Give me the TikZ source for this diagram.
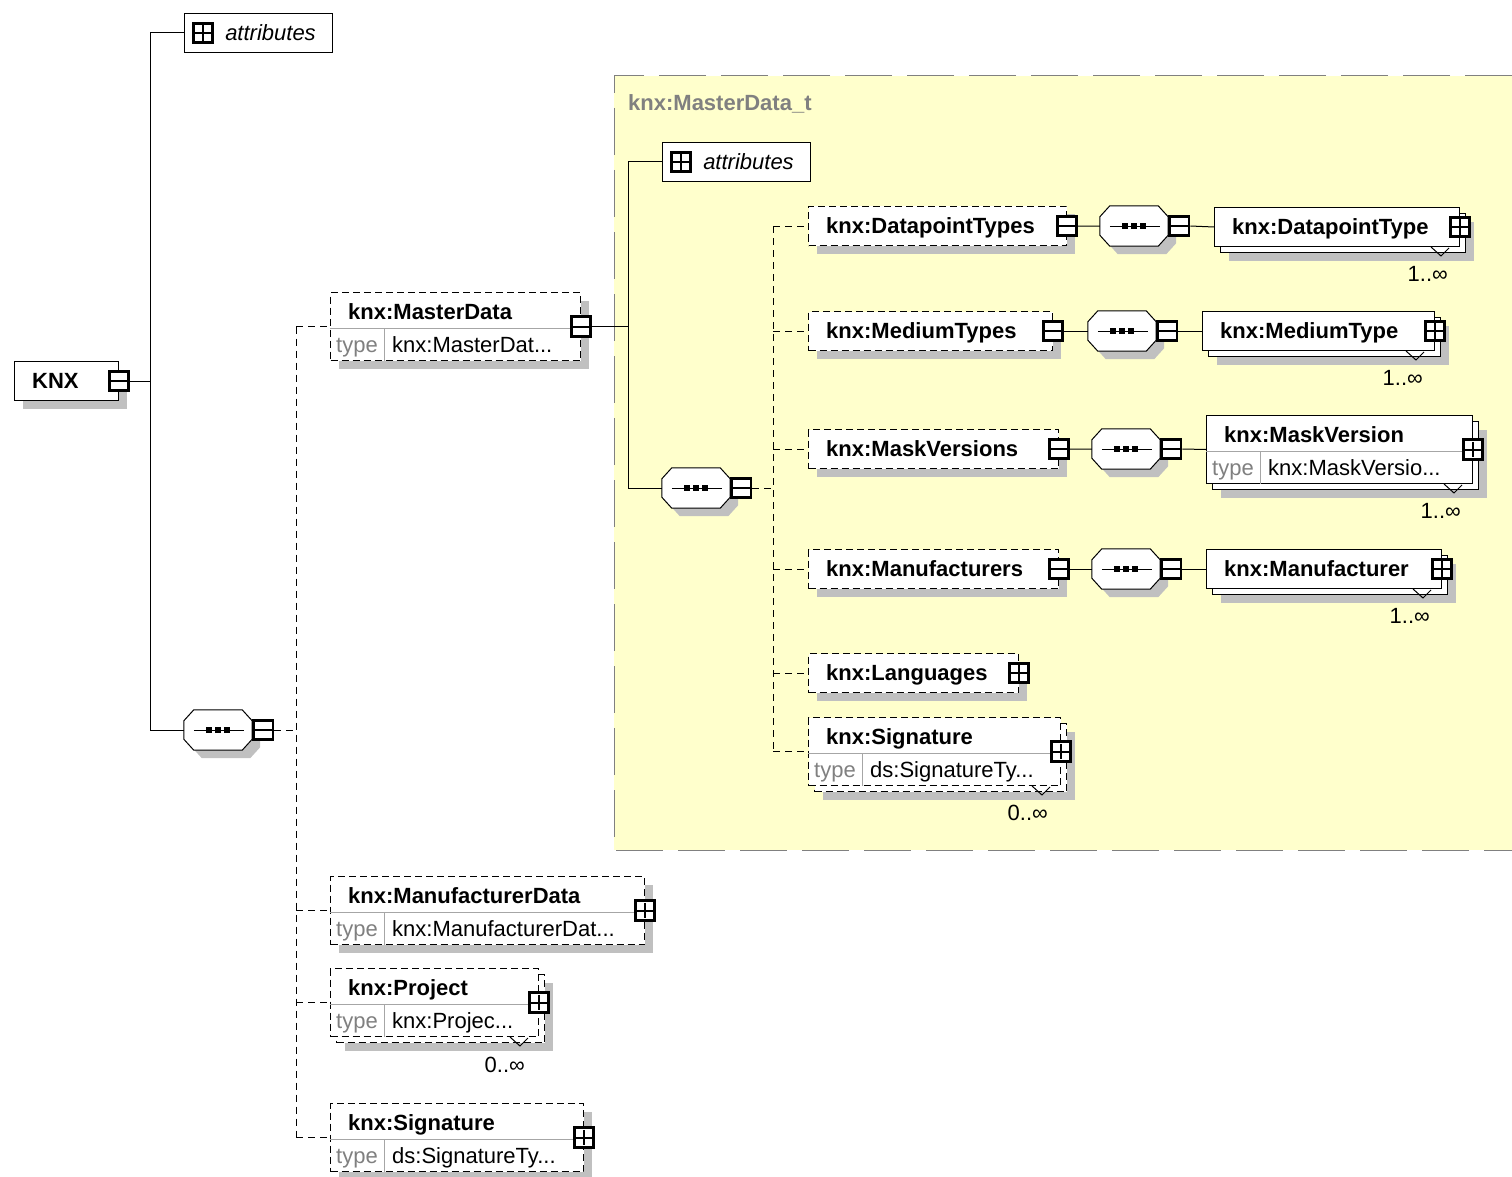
\documentclass[tikz,border=0pt]{standalone}
\usepackage{fontspec}
\setmainfont{Liberation Sans}
\usetikzlibrary{shadows}

\definecolor{cmplx}{RGB}{255,255,204}
\definecolor{shd}{RGB}{192,192,192}
\definecolor{lbl}{RGB}{128,128,128}

\tikzset{
  box/.style={draw, fill=white, line width=1pt, anchor=north west, minimum height=39, inner sep=0},
  opt/.style={dash pattern=on 7pt off 4pt},
  sh/.style={drop shadow={shadow xshift=8pt, shadow yshift=-8pt, fill=shd, draw=none, opacity=1}},
  multi/.style={drop shadow={shadow xshift=14pt, shadow yshift=-14pt, fill=shd, draw=none, opacity=1},
    copy shadow={shadow xshift=6pt, shadow yshift=-6pt, draw=black, fill=white}},
  txt/.style={anchor=west, inner sep=0, text height=15, text depth=0},
  ttl/.style={txt, font=\bfseries},
  typ/.style={txt, text=lbl},
  occ/.style={txt, anchor=east},
  sep/.style={draw=black!35, line width=1pt},
  attr/.style={box, minimum width=148, text height=15, text depth=0, font=\itshape},
  btn/.style={draw, fill=white, line width=2.6pt, minimum size=19.5, inner sep=0},
  minus/.style={btn, path picture={\draw[black, line width=2pt] ([xshift=1pt]path picture bounding box.west) -- ([xshift=-1pt]path picture bounding box.east);}},
  plus/.style={btn, path picture={\draw[black, line width=2pt] ([xshift=2pt]path picture bounding box.west) -- ([xshift=-2pt]path picture bounding box.east)
      ([yshift=-2pt]path picture bounding box.north) -- ([yshift=2pt]path picture bounding box.south);}},
  seq/.style={minimum width=68, minimum height=40, inner sep=0},
  wire/.style={line width=1pt},
  link/.style={line width=1pt, dash pattern=on 7pt off 5pt},
}

% sequence compositor: name, position
\newcommand{\seqbox}[2]{%
  \node[seq] (#1) at (#2) {};
  \fill[shd, transform canvas={shift={(8pt,-8pt)}}]
    ([xshift=10pt]#1.north west) -- ([xshift=-10pt]#1.north east) -- ([yshift=-11pt]#1.north east)
    -- ([yshift=11pt]#1.south east) -- ([xshift=-10pt]#1.south east) -- ([xshift=10pt]#1.south west)
    -- ([yshift=11pt]#1.south west) -- ([yshift=-11pt]#1.north west) -- cycle;
  \filldraw[wire, fill=white]
    ([xshift=10pt]#1.north west) -- ([xshift=-10pt]#1.north east) -- ([yshift=-11pt]#1.north east)
    -- ([yshift=11pt]#1.south east) -- ([xshift=-10pt]#1.south east) -- ([xshift=10pt]#1.south west)
    -- ([yshift=11pt]#1.south west) -- ([yshift=-11pt]#1.north west) -- cycle;
  \draw[wire] ([xshift=10pt]#1.west) -- ([xshift=-8pt]#1.east);
  \foreach \d in {-9,0,9}
    \fill[black] ([shift={(\d-3,-3)}]#1.center) rectangle ++(6,6);
}

\begin{document}
\fontsize{22}{26}\selectfont
\begin{tikzpicture}[x=1pt, y=-1pt]
\useasboundingbox (0,0) rectangle (1512,1177);

% complex type area
\fill[cmplx] (614,76) rectangle (1512,850);
\draw[lbl, line width=1pt, dash pattern=on 47pt off 15pt] (1512,76) -- (614,76) -- (614,850) -- (1512,850);
\node[ttl, text=lbl] (mdt) at (628,103) {knx:MasterData\_t};

% root
\node[box, sh, minimum width=104] (knx) at (14,361) {};
\node[ttl] (knxT) at ([xshift=18pt]knx.west) {KNX};
\node[minus] (knxB) at (knx.east) {};
\coordinate (j1) at (150,0 |- knx.east);

\node[attr] (attr1) at (184,13) {\hspace*{24pt}attributes};
\node[plus] (attr1I) at ([xshift=19pt]attr1.west) {};

\seqbox{seq1}{218,730}
\node[minus, anchor=west] (seq1B) at (seq1.east) {};
\coordinate (j2) at (296,0 |- seq1.east);

% knx:MasterData
\node[box, opt, sh, minimum width=250, minimum height=68] (md) at (330,292) {};
\node[ttl] (mdT) at ([shift={(18,20)}]md.north west) {knx:MasterData};
\draw[sep] ([shift={(0,36)}]md.north west) -- ([shift={(0,36)}]md.north east)
  ([shift={(54,36)}]md.north west) -- ([shift={(54,0)}]md.south west);
\node[typ] (mdK) at ([shift={(6,53)}]md.north west) {type};
\node[txt] (mdV) at ([shift={(62,53)}]md.north west) {knx:MasterDat...};
\node[minus] (mdB) at (md.east) {};
\coordinate (j3) at (628,0 |- md.east);

% knx:ManufacturerData
\node[box, opt, sh, minimum width=314, minimum height=68] (mfd) at (330,876) {};
\node[ttl] (mfdT) at ([shift={(18,20)}]mfd.north west) {knx:ManufacturerData};
\draw[sep] ([shift={(0,36)}]mfd.north west) -- ([shift={(0,36)}]mfd.north east)
  ([shift={(54,36)}]mfd.north west) -- ([shift={(54,0)}]mfd.south west);
\node[typ] (mfdK) at ([shift={(6,53)}]mfd.north west) {type};
\node[txt] (mfdV) at ([shift={(62,53)}]mfd.north west) {knx:ManufacturerDat...};
\node[plus] (mfdB) at (mfd.east) {};

% knx:Project
\node[box, opt, multi, minimum width=208, minimum height=68] (prj) at (330,968) {};
\node[ttl] (prjT) at ([shift={(18,20)}]prj.north west) {knx:Project};
\draw[sep] ([shift={(0,36)}]prj.north west) -- ([shift={(0,36)}]prj.north east)
  ([shift={(54,36)}]prj.north west) -- ([shift={(54,0)}]prj.south west);
\node[typ] (prjK) at ([shift={(6,53)}]prj.north west) {type};
\node[txt] (prjV) at ([shift={(62,53)}]prj.north west) {knx:Projec...};
\node[plus] (prjB) at (prj.east) {};
\draw[wire] ([xshift=-29pt]prj.south east) -- ++(10,9) -- ++(8,-8);
\node[occ] (prjO) at ([shift={(-14,28)}]prj.south east) {0..∞};

% knx:Signature
\node[box, opt, sh, minimum width=253, minimum height=68] (sig1) at (330,1103) {};
\node[ttl] (sig1T) at ([shift={(18,20)}]sig1.north west) {knx:Signature};
\draw[sep] ([shift={(0,36)}]sig1.north west) -- ([shift={(0,36)}]sig1.north east)
  ([shift={(54,36)}]sig1.north west) -- ([shift={(54,0)}]sig1.south west);
\node[typ] (sig1K) at ([shift={(6,53)}]sig1.north west) {type};
\node[txt] (sig1V) at ([shift={(62,53)}]sig1.north west) {ds:SignatureTy...};
\node[plus] (sig1B) at (sig1.east) {};

% inside knx:MasterData_t
\node[attr] (attr2) at (662,142) {\hspace*{24pt}attributes};
\node[plus] (attr2I) at ([xshift=19pt]attr2.west) {};

\seqbox{seq2}{696,488}
\node[minus, anchor=west] (seq2B) at (seq2.east) {};
\coordinate (j4) at (773,0 |- seq2.east);

\node[box, opt, sh, minimum width=258] (dpts) at (808,206) {};
\node[ttl] (dptsT) at ([xshift=18pt]dpts.west) {knx:DatapointTypes};
\node[minus] (dptsB) at (dpts.east) {};
\seqbox{seqD}{1134,226}
\node[minus, anchor=west] (seqDB) at (seqD.east) {};
\node[box, multi, minimum width=245] (dpt) at (1214,207) {};
\node[ttl] (dptT) at ([xshift=18pt]dpt.west) {knx:DatapointType};
\node[plus] (dptB) at (dpt.east) {};
\draw[wire] ([xshift=-29pt]dpt.south east) -- ++(10,9) -- ++(8,-8);
\node[occ] (dptO) at ([shift={(-12,27)}]dpt.south east) {1..∞};

\node[box, opt, sh, minimum width=244] (mts) at (808,311) {};
\node[ttl] (mtsT) at ([xshift=18pt]mts.west) {knx:MediumTypes};
\node[minus] (mtsB) at (mts.east) {};
\seqbox{seqM}{1122,331}
\node[minus, anchor=west] (seqMB) at (seqM.east) {};
\node[box, multi, minimum width=232] (mt) at (1202,311) {};
\node[ttl] (mtT) at ([xshift=18pt]mt.west) {knx:MediumType};
\node[plus] (mtB) at (mt.east) {};
\draw[wire] ([xshift=-29pt]mt.south east) -- ++(10,9) -- ++(8,-8);
\node[occ] (mtO) at ([shift={(-12,27)}]mt.south east) {1..∞};

\node[box, opt, sh, minimum width=250] (mvs) at (808,429) {};
\node[ttl] (mvsT) at ([xshift=18pt]mvs.west) {knx:MaskVersions};
\node[minus] (mvsB) at (mvs.east) {};
\seqbox{seqV}{1126,449}
\node[minus, anchor=west] (seqVB) at (seqV.east) {};
\node[box, multi, minimum width=266, minimum height=68] (mv) at (1206,415) {};
\node[ttl] (mvT) at ([shift={(18,20)}]mv.north west) {knx:MaskVersion};
\draw[sep] ([shift={(0,36)}]mv.north west) -- ([shift={(0,36)}]mv.north east)
  ([shift={(54,36)}]mv.north west) -- ([shift={(54,0)}]mv.south west);
\node[typ] (mvK) at ([shift={(6,53)}]mv.north west) {type};
\node[txt] (mvV) at ([shift={(62,53)}]mv.north west) {knx:MaskVersio...};
\node[plus] (mvB) at (mv.east) {};
\draw[wire] ([xshift=-29pt]mv.south east) -- ++(10,9) -- ++(8,-8);
\node[occ] (mvO) at ([shift={(-12,27)}]mv.south east) {1..∞};

\node[box, opt, sh, minimum width=250] (mfs) at (808,549) {};
\node[ttl] (mfsT) at ([xshift=18pt]mfs.west) {knx:Manufacturers};
\node[minus] (mfsB) at (mfs.east) {};
\seqbox{seqF}{1126,569}
\node[minus, anchor=west] (seqFB) at (seqF.east) {};
\node[box, multi, minimum width=235] (mf) at (1206,549) {};
\node[ttl] (mfT) at ([xshift=18pt]mf.west) {knx:Manufacturer};
\node[plus] (mfB) at (mf.east) {};
\draw[wire] ([xshift=-29pt]mf.south east) -- ++(10,9) -- ++(8,-8);
\node[occ] (mfO) at ([shift={(-12,27)}]mf.south east) {1..∞};

\node[box, opt, sh, minimum width=210] (lng) at (808,653) {};
\node[ttl] (lngT) at ([xshift=18pt]lng.west) {knx:Languages};
\node[plus] (lngB) at (lng.east) {};

\node[box, opt, multi, minimum width=252, minimum height=68] (sig2) at (808,717) {};
\node[ttl] (sig2T) at ([shift={(18,20)}]sig2.north west) {knx:Signature};
\draw[sep] ([shift={(0,36)}]sig2.north west) -- ([shift={(0,36)}]sig2.north east)
  ([shift={(54,36)}]sig2.north west) -- ([shift={(54,0)}]sig2.south west);
\node[typ] (sig2K) at ([shift={(6,53)}]sig2.north west) {type};
\node[txt] (sig2V) at ([shift={(62,53)}]sig2.north west) {ds:SignatureTy...};
\node[plus] (sig2B) at (sig2.east) {};
\draw[wire] ([xshift=-29pt]sig2.south east) -- ++(10,9) -- ++(8,-8);
\node[occ] (sig2O) at ([shift={(-13,27)}]sig2.south east) {0..∞};

% connectors
\draw[wire] (knxB.east) -- (j1) |- (attr1.west);
\draw[wire] (j1) |- (seq1.west);
\draw[link] (seq1B.east) -- (j2);
\draw[link] (j2 |- md.west) -- (j2 |- sig1.west);
\draw[link] (j2 |- md.west) -- (md.west) (j2 |- mfd.west) -- (mfd.west)
  (j2 |- prj.west) -- (prj.west) (j2 |- sig1.west) -- (sig1.west);
\draw[wire] (mdB.east) -- (j3) |- (attr2.west);
\draw[wire] (j3) |- (seq2.west);
\draw[link] (seq2B.east) -- (j4);
\draw[link] (j4 |- dpts.west) -- (j4 |- sig2.west);
\draw[link] (j4 |- dpts.west) -- (dpts.west) (j4 |- mts.west) -- (mts.west)
  (j4 |- mvs.west) -- (mvs.west) (j4 |- mfs.west) -- (mfs.west)
  (j4 |- lng.west) -- (lng.west) (j4 |- sig2.west) -- (sig2.west);
\draw[wire] (dptsB.east) -- (seqD.west) (seqDB.east) -- (dpt.west);
\draw[wire] (mtsB.east) -- (seqM.west) (seqMB.east) -- (mt.west);
\draw[wire] (mvsB.east) -- (seqV.west) (seqVB.east) -- (mv.west);
\draw[wire] (mfsB.east) -- (seqF.west) (seqFB.east) -- (mf.west);

\end{tikzpicture}
\end{document}
